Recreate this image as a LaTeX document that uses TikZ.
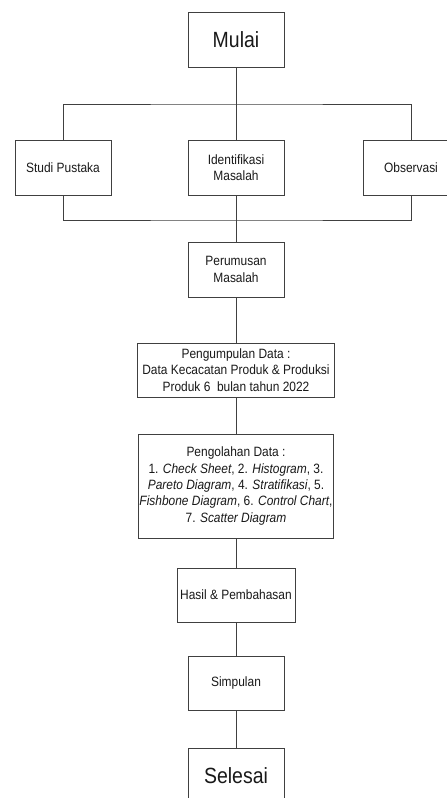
\documentclass[tikz,border=0pt]{standalone}
\usepackage{fontspec}
\setmainfont{Liberation Sans}[FakeStretch=0.885]
\begin{document}
\begin{tikzpicture}[x=1pt,y=-1pt,
  box/.style={draw=black!75, line width=0.9pt, minimum width=96pt, minimum height=55pt,
    align=center, inner sep=1pt, font=\fontsize{13.5}{16.4}\selectfont, text=black!90},
  bigbox/.style={box, font=\fontsize{22}{26}\selectfont},
  link/.style={draw=black!75, line width=0.9pt}]
\useasboundingbox (0,0) rectangle (447,798);
\fill[white] (0,0) rectangle (447,798);
\node[bigbox] (mulai) at (236,40) {Mulai};
\node[box] (studi) at (63,167.5) {Studi Pustaka};
\node[box] (ident) at (236,167.5) {Identifikasi\\Masalah};
\node[box] (obs) at (411,167.5) {Observasi};
\node[box] (perum) at (236,269.5) {Perumusan\\Masalah};
\node[box, minimum width=197pt, minimum height=54pt] (kumpul) at (236,370)
  {Pengumpulan Data :\\Data Kecacatan Produk \& Produksi\\Produk 6\ \ bulan tahun 2022};
\node[box, minimum width=194pt, minimum height=104pt] (olah) at (236,486)
  {Pengolahan Data :\\1. \textit{Check Sheet}, 2. \textit{Histogram}, 3.\\\textit{Pareto Diagram}, 4. \textit{Stratifikasi}, 5.\\\textit{Fishbone Diagram}, 6. \textit{Control Chart},\\7. \textit{Scatter Diagram}};
\node[box, minimum width=118pt, minimum height=54pt] (hasil) at (236,595) {Hasil \& Pembahasan};
\node[box, minimum height=54pt] (simpul) at (236,683) {Simpulan};
\node[bigbox] (selesai) at (236,775.5) {Selesai};
\coordinate (top) at (236,104);
\coordinate (bot) at (236,220);
\draw[link] (mulai.south) -- (ident.north);
\draw[link] (studi.north) |- (top) -| (obs.north);
\draw[link] (studi.south) |- (bot) -| (obs.south);
\draw[link] (ident.south) -- (perum.north);
\draw[link] (perum.south) -- (kumpul.north);
\draw[link] (kumpul.south) -- (olah.north);
\draw[link] (olah.south) -- (hasil.north);
\draw[link] (hasil.south) -- (simpul.north);
\draw[link] (simpul.south) -- (selesai.north);
\end{tikzpicture}
\end{document}
